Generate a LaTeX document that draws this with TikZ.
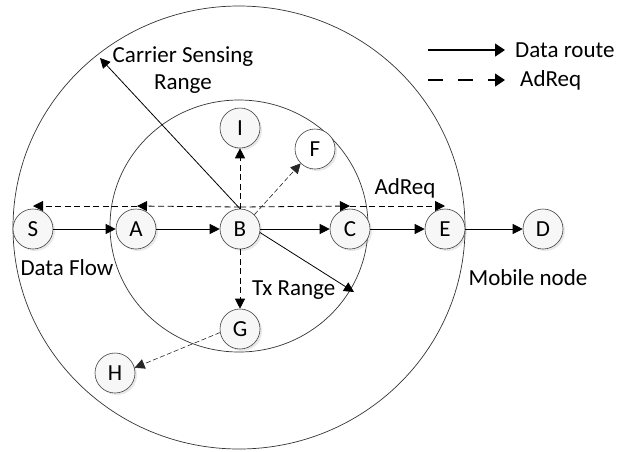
\documentclass[tikz,border=0pt]{standalone}
\usepackage{fontspec}
\setmainfont{Carlito}
\usetikzlibrary{arrows.meta,shadows}
\begin{document}
\begin{tikzpicture}[x=1pt,y=-1pt,
  nd/.style={circle,draw=black!75,line width=0.6pt,fill=gray!6,minimum size=40pt,inner sep=0pt,
    font=\fontsize{23}{26}\selectfont,
    drop shadow={opacity=0.18,shadow xshift=2pt,shadow yshift=-2pt}},
  lbl/.style={font=\fontsize{23}{27}\selectfont, inner sep=0pt},
  tip/.style={-{Triangle[length=10pt,width=10pt]}},
  sol/.style={tip, line width=0.8pt},
  dsh/.style={tip, line width=0.8pt, dash pattern=on 6pt off 3.5pt},
  ldsh/.style={tip, line width=0.6pt, dash pattern=on 5pt off 2.5pt, draw=black!85},
  legtip/.style={-{Triangle[length=10pt,width=13pt]}, line width=1.3pt},
  ring/.style={draw=black!80, line width=0.7pt}]
\useasboundingbox (0,0) rectangle (617,451);
% range circles
\draw[ring] (239,227.5) ellipse [x radius=226, y radius=221.5];
\draw[ring] (239,226) ellipse [x radius=129, y radius=126];
% nodes
\node[nd] (S) at (33,229) {S};
\node[nd] (A) at (136,229) {A};
\node[nd] (B) at (240,229) {B};
\node[nd] (C) at (350,229) {C};
\node[nd] (E) at (445,229) {E};
\node[nd] (D) at (543,229) {D};
\node[nd] (I) at (240,128) {I};
\node[nd,fill=white,drop shadow={opacity=0}] (F) at (315,149) {F};
\node[nd] (G) at (240,329) {G};
\node[nd] (H) at (115,373) {H};
% helper coordinates
\coordinate (bt) at (240,207);
\coordinate (sT) at (33,206);
\coordinate (aT) at (137,206);
\coordinate (cT) at (350,206);
\coordinate (eT) at (445,206);
\coordinate (cs) at (100,58);
\coordinate (tx) at (354,292);
% data route
\draw[sol] (S) -- (A);
\draw[sol] (A) -- (B);
\draw[sol] (B) -- (C);
\draw[sol] (C) -- (E);
\draw[sol] (E) -- (D);
\draw[sol] (B.north) -- (cs);
\draw[sol] (B.-10) -- (tx);
% AdReq
\draw[dsh] (bt) -- (aT);
\draw[dsh] (aT) -- (sT);
\draw[dsh] (bt) -- (cT);
\draw[dsh] (cT) -- (eT);
\draw[dsh] (B.north) -- (I.south);
\draw[dsh] (B.south) -- (G.north);
\draw[ldsh] (B.45) -- (F.225);
\draw[ldsh] (G.190) -- (H.15);
% labels
\node[lbl,align=center] (csl) at (183,70) {Carrier Sensing\\Range};
\node[lbl] (df) at (67,268) {Data Flow};
\node[lbl,anchor=west] (txl) at (252,290) {Tx Range};
\node[lbl] (adr) at (405,188) {AdReq};
\node[lbl] (mob) at (528,278) {Mobile node};
% legend
\coordinate (l1a) at (428,50);
\coordinate (l1b) at (505,50);
\coordinate (l2a) at (428,80);
\coordinate (l2b) at (505,80);
\draw[legtip] (l1a) -- (l1b);
\draw[legtip, dash pattern=on 15pt off 15pt] (l2a) -- (l2b);
\node[lbl,anchor=west] (lg1) at (515,50) {Data route};
\node[lbl,anchor=west] (lg2) at (520,80) {AdReq};
\end{tikzpicture}
\end{document}
